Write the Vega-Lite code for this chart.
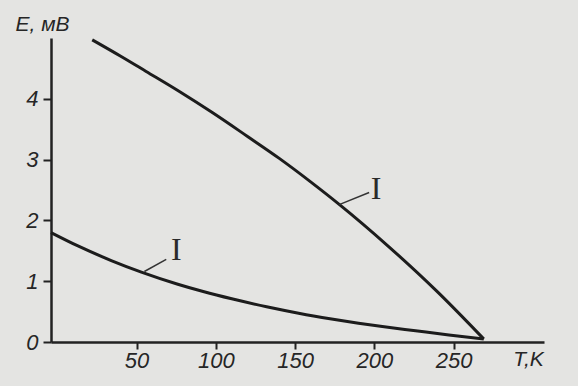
{
  "$schema": "https://vega.github.io/schema/vega-lite/v6.json",
  "width": 493,
  "height": 304,
  "autosize": {"type": "none"},
  "padding": {"left": 51, "top": 38, "right": 34, "bottom": 44},
  "background": "#e4e4e2",
  "config": {
    "view": {"stroke": null},
    "axis": {"grid": false, "domainColor": "#222", "tickColor": "#222", "labelColor": "#262626", "titleColor": "#262626", "labelFont": "Liberation Sans", "titleFont": "Liberation Sans", "labelFontStyle": "italic", "titleFontStyle": "italic", "labelFontWeight": "normal", "titleFontWeight": "normal"}
  },
  "datasets": {
    "curves": [
      {"T": 22, "E": 4.97, "curve": "II"},
      {"T": 40, "E": 4.70, "curve": "II"},
      {"T": 56, "E": 4.45, "curve": "II"},
      {"T": 77, "E": 4.12, "curve": "II"},
      {"T": 98, "E": 3.77, "curve": "II"},
      {"T": 120, "E": 3.38, "curve": "II"},
      {"T": 140, "E": 3.02, "curve": "II"},
      {"T": 160, "E": 2.63, "curve": "II"},
      {"T": 178, "E": 2.26, "curve": "II"},
      {"T": 209, "E": 1.57, "curve": "II"},
      {"T": 240, "E": 0.82, "curve": "II"},
      {"T": 269, "E": 0.05, "curve": "II"},
      {"T": -4, "E": 1.80, "curve": "I"},
      {"T": 13, "E": 1.58, "curve": "I"},
      {"T": 34, "E": 1.34, "curve": "I"},
      {"T": 53, "E": 1.15, "curve": "I"},
      {"T": 76, "E": 0.95, "curve": "I"},
      {"T": 92, "E": 0.83, "curve": "I"},
      {"T": 110, "E": 0.71, "curve": "I"},
      {"T": 132, "E": 0.58, "curve": "I"},
      {"T": 153, "E": 0.47, "curve": "I"},
      {"T": 173, "E": 0.38, "curve": "I"},
      {"T": 190, "E": 0.31, "curve": "I"},
      {"T": 205, "E": 0.255, "curve": "I"},
      {"T": 226, "E": 0.185, "curve": "I"},
      {"T": 247, "E": 0.115, "curve": "I"},
      {"T": 269, "E": 0.05, "curve": "I"}
    ],
    "leaders": [
      {"T": 54.9, "E": 1.16, "T2": 68.7, "E2": 1.36},
      {"T": 177.8, "E": 2.26, "T2": 196.7, "E2": 2.46}
    ],
    "labels": [
      {"T": 75, "E": 1.51, "text": "I", "weight": "normal"},
      {"T": 201, "E": 2.51, "text": "I", "weight": "bold"}
    ]
  },
  "layer": [
    {
      "data": {"name": "curves"},
      "mark": {"type": "line", "interpolate": "monotone", "strokeWidth": 3, "color": "#1c1c1c", "clip": false},
      "encoding": {
        "x": {"field": "T", "type": "quantitative", "scale": {"domain": [-4, 307], "nice": false, "zero": false},
          "axis": {"values": [50, 100, 150, 200, 250], "tickSize": 7, "tickWidth": 2, "domainWidth": 2.5, "labelFontSize": 22, "labelPadding": 1, "labelFlush": false,
            "title": "T,K", "titleFontSize": 21, "titleX": 477, "titleY": 17, "titleAlign": "center", "titleBaseline": "middle", "titleAnchor": null}},
        "y": {"field": "E", "type": "quantitative", "scale": {"domain": [0, 5], "nice": false},
          "axis": {"values": [0, 1, 2, 3, 4], "format": "d", "tickSize": 8, "tickWidth": 2, "domainWidth": 2.5, "labelFontSize": 22, "labelPadding": 5, "labelFlush": false,
            "title": "E, мВ", "titleFontSize": 21, "titleAngle": 0, "titleX": -9, "titleY": -14, "titleAlign": "center", "titleBaseline": "middle", "titleAnchor": null}},
        "detail": {"field": "curve"}
      }
    },
    {
      "data": {"name": "leaders"},
      "mark": {"type": "rule", "strokeWidth": 1.5, "color": "#333"},
      "encoding": {
        "x": {"field": "T", "type": "quantitative"},
        "y": {"field": "E", "type": "quantitative"},
        "x2": {"field": "T2"},
        "y2": {"field": "E2"}
      }
    },
    {
      "data": {"name": "labels"},
      "mark": {"type": "text", "font": "Liberation Serif", "fontSize": 32, "color": "#2a2a2a", "baseline": "middle", "align": "center"},
      "encoding": {
        "x": {"field": "T", "type": "quantitative"},
        "y": {"field": "E", "type": "quantitative"},
        "text": {"field": "text"},
        "fontWeight": {"field": "weight", "type": "nominal", "scale": null}
      }
    }
  ]
}
